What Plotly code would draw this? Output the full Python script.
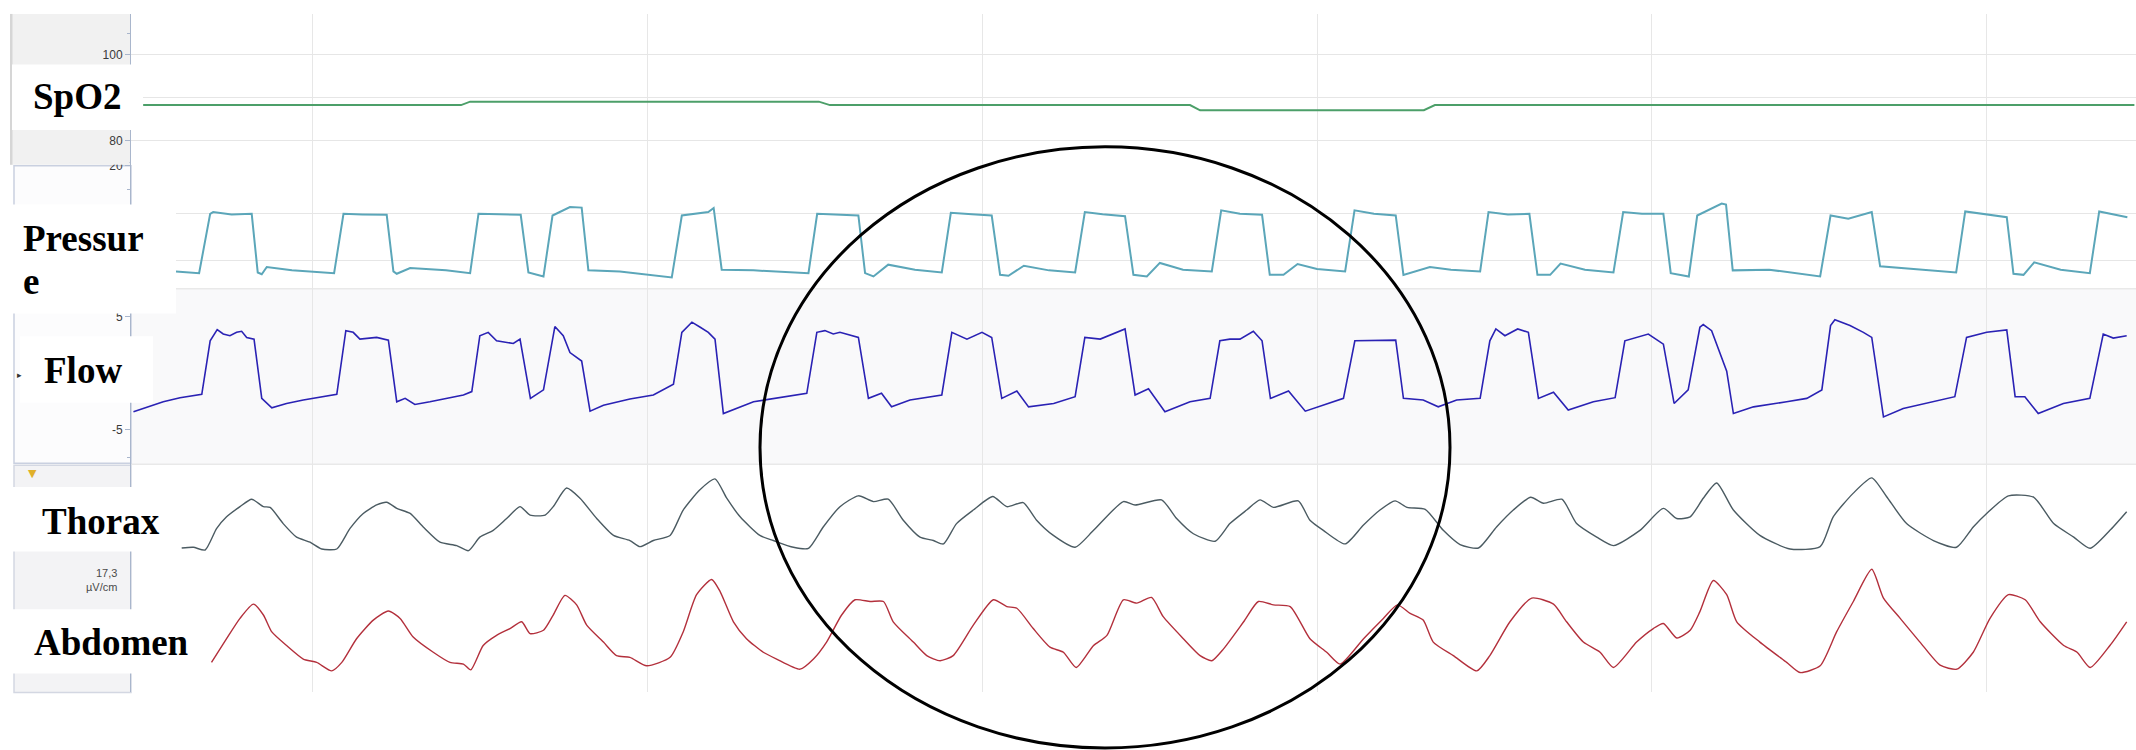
import plotly.graph_objects as go

W, H = 2136, 750

# ---------------- data (time in s, gridlines every 10 s) ----------------
spo2_t = [-5.04, 4.45, 4.72, 15.13, 15.46, 26.21, 26.51, 33.19, 33.52, 54.40]
spo2_v = [88.3, 88.3, 89.1, 89.1, 88.3, 88.3, 87.1, 87.1, 88.3, 88.3]

pressure_t = [-4.06, -3.37, -3.04, -2.95, -2.40, -1.80, -1.62, -1.50, -1.35, -0.60, 0.66, 0.94, 1.50, 2.23, 2.43,
              2.53, 2.93, 4.00, 4.72, 4.97, 5.60, 6.23, 6.46, 6.91, 7.18, 7.70, 8.05, 8.25, 9.19, 10.74,
              11.04, 11.83, 11.99, 12.23, 13.18, 14.82, 15.08, 15.70, 16.31, 16.51, 16.76, 17.20, 18.00, 18.80,
              19.07, 19.70, 20.29, 20.54, 20.79, 21.25, 22.00, 22.78, 23.07, 23.60, 24.27, 24.52, 24.92, 25.31,
              26.00, 26.86, 27.14, 27.70, 28.36, 28.59, 29.00, 29.42, 30.00, 30.84, 31.12, 31.70, 32.35, 32.58,
              33.37, 34.00, 34.87, 35.12, 35.70, 36.34, 36.58, 36.96, 37.27, 38.00, 38.85, 39.14, 39.70, 40.34,
              40.56, 41.10, 41.35, 42.08, 42.21, 42.41, 43.50, 45.02, 45.33, 45.86, 46.56, 46.81, 48.00, 49.08,
              49.35, 50.00, 50.59, 50.79, 51.09, 51.41, 52.20, 53.07, 53.35, 54.19]
pressure_v = [8.90, 8.72, 14.95, 15.13, 14.88, 14.95, 8.79, 8.60, 9.36, 9.01, 8.72, 14.95, 14.88, 14.84, 8.90,
              8.65, 9.26, 9.01, 8.72, 14.95, 14.90, 14.84, 8.79, 8.37, 14.77, 15.66, 15.60, 9.01, 8.90, 8.26,
              14.77, 15.13, 15.56, 9.08, 9.01, 8.72, 14.95, 14.88, 14.77, 8.72, 8.37, 9.61, 9.08, 8.79,
              15.06, 14.90, 14.77, 8.54, 8.44, 9.50, 9.01, 8.79, 15.13, 14.90, 14.70, 8.54, 8.37, 9.79,
              9.08, 8.90, 15.31, 14.95, 14.84, 8.54, 8.54, 9.68, 9.15, 8.90, 15.31, 14.95, 14.77, 8.54,
              9.36, 9.08, 8.90, 15.13, 14.88, 14.95, 8.54, 8.54, 9.72, 9.08, 8.79, 15.13, 14.95, 14.95,
              8.72, 8.37, 14.77, 16.02, 15.91, 9.01, 9.08, 8.37, 14.77, 14.42, 15.13, 9.43, 9.08, 8.79,
              15.20, 14.88, 14.59, 8.65, 8.54, 9.86, 9.08, 8.72, 15.20, 14.59]

flow_t = [-5.33, -4.44, -3.94, -3.29, -3.04, -2.83, -2.65, -2.45, -2.25, -2.10, -1.95, -1.73, -1.50, -1.20, -0.76,
          -0.26, 0.74, 1.01, 1.23, 1.43, 1.93, 2.28, 2.53, 2.78, 3.07, 3.52, 4.52, 4.77, 5.01, 5.26, 5.51, 6.01,
          6.21, 6.52, 6.91, 7.25, 7.50, 7.70, 8.05, 8.30, 8.70, 9.49, 10.19, 10.79, 11.04, 11.34, 11.59, 11.83,
          12.03, 12.28, 13.18, 14.77, 15.07, 15.31, 15.56, 15.76, 16.31, 16.61, 17.00, 17.30, 17.85, 18.80,
          19.10, 19.55, 20.00, 20.29, 20.59, 21.04, 21.39, 22.14, 22.78, 23.07, 23.53, 24.27, 24.57, 24.97,
          25.46, 26.21, 26.81, 27.10, 27.40, 27.70, 28.10, 28.36, 28.61, 29.15, 29.65, 30.79, 31.13, 31.78,
          32.35, 32.58, 33.17, 33.62, 34.17, 34.87, 35.16, 35.34, 35.61, 35.99, 36.31, 36.61, 37.06, 37.50,
          38.25, 38.90, 39.19, 39.89, 40.34, 40.66, 41.08, 41.43, 41.53, 41.78, 42.23, 42.43, 43.03, 44.02,
          44.62, 45.07, 45.33, 45.46, 45.91, 46.31, 46.56, 46.91, 47.50, 49.04, 49.39, 49.99, 50.59, 50.84,
          51.13, 51.53, 52.28, 53.07, 53.47, 53.77, 54.17]
flow_v = [-3.43, -2.54, -2.18, -1.88, 2.85, 3.84, 3.45, 3.30, 3.60, 3.69, 3.15, 3.00, -2.24, -3.08, -2.69,
          -2.39, -1.88, 3.75, 3.60, 3.00, 3.15, 2.91, -2.54, -2.24, -2.78, -2.54, -1.94, -1.64, 3.30, 3.60, 2.85, 2.61,
          3.00, -2.24, -1.49, 4.11, 3.30, 1.81, 1.06, -3.37, -2.84, -2.30, -1.94, -0.98, 3.60, 4.50, 4.05, 3.60,
          3.00, -3.58, -2.54, -1.79, 3.60, 3.75, 3.45, 3.60, 3.15, -2.24, -1.79, -2.99, -2.39, -1.94,
          3.60, 3.00, 3.60, 3.15, -2.24, -1.58, -2.99, -2.69, -2.09, 3.15, 3.00, 3.90, -1.94, -1.40,
          -3.43, -2.54, -2.24, 2.85, 3.00, 3.00, 3.69, 2.85, -2.24, -1.58, -3.37, -2.24, 2.85, 2.91,
          2.91, -2.24, -2.39, -2.99, -2.39, -2.24, 2.85, 3.90, 3.30, 3.90, 3.60, -2.24, -1.70, -3.28,
          -2.54, -2.18, 2.85, 3.45, 2.55, -2.69, -1.49, 4.05, 4.29, 3.75, 0.16, -3.58, -2.99, -2.54,
          -2.24, -1.49, 4.20, 4.71, 4.20, 3.60, 3.15, -3.88, -3.14, -2.09, 3.15, 3.60, 3.81, -2.09,
          -2.09, -3.58, -2.69, -2.24, 3.45, 3.09, 3.30]

thorax_t = [-3.89, -3.54, -3.19, -2.85, -2.55, -2.15, -1.80, -1.45, -1.25, -0.86, -0.46, -0.06, 0.29, 0.74, 1.13,
            1.53, 1.93, 2.23, 2.53, 2.93, 3.32, 3.82, 4.32, 4.67, 5.01, 5.41, 5.81, 6.21, 6.51, 6.96, 7.20, 7.60,
            8.00, 8.50, 9.00, 9.49, 9.79, 10.19, 10.69, 11.08, 11.58, 12.03, 12.38, 12.78, 13.37, 13.77, 14.37,
            14.82, 15.26, 15.76, 16.31, 16.76, 17.20, 17.65, 18.15, 18.55, 18.85, 19.24, 19.74, 20.32, 20.74,
            21.23, 21.63, 22.13, 22.78, 23.33, 24.22, 24.57, 25.36, 25.81, 26.31, 26.96, 27.40, 27.90, 28.30,
            28.70, 29.44, 29.79, 30.19, 30.84, 31.38, 31.88, 32.33, 32.69, 33.23, 33.77, 34.27, 34.82, 35.36,
            35.86, 36.38, 36.76, 37.31, 37.75, 38.35, 38.85, 39.64, 40.34, 40.74, 41.14, 41.53, 41.93, 42.43,
            43.22, 44.12, 45.02, 45.41, 46.01, 46.56, 47.00, 47.60, 48.40, 49.09, 49.59, 49.99, 50.64, 51.39,
            51.99, 52.59, 53.08, 53.67, 54.17]
thorax_v = [0.8, 1.0, 0.2, 6.5, 10.0, 13.0, 15.2, 13.0, 12.8, 8.0, 4.0, 2.5, 0.5, 0.5, 6.5,
            11.0, 13.5, 14.3, 12.5, 11.0, 7.0, 2.5, 1.5, 0.0, 4.0, 6.0, 9.5, 13.0, 10.5, 10.5, 13.0, 18.5,
            15.5, 9.5, 4.5, 3.0, 1.2, 3.0, 4.5, 12.0, 18.0, 21.2, 15.5, 10.0, 4.5, 3.0, 1.0,
            0.7, 7.0, 13.0, 16.2, 14.5, 15.2, 9.0, 4.0, 3.0, 2.0, 8.0, 12.0, 16.0, 13.0,
            14.2, 9.0, 4.5, 1.0, 6.0, 14.5, 13.5, 15.0, 9.5, 5.0, 2.8, 8.0, 12.0, 15.0,
            12.8, 14.7, 9.0, 6.0, 2.0, 7.5, 12.0, 14.7, 12.8, 12.2, 6.0, 1.8, 0.8, 7.0,
            12.0, 15.8, 14.0, 15.2, 8.0, 4.0, 1.5, 6.0, 12.5, 9.5, 10.0, 15.5, 20.0, 12.0,
            4.5, 0.5, 1.2, 10.0, 17.0, 21.5, 16.0, 8.0, 3.0, 1.0, 7.0, 11.0, 16.2, 15.8,
            8.0, 4.0, 0.7, 6.0, 11.5]

abdomen_t = [-3.00, -2.55, -2.15, -1.75, -1.45, -1.20, -0.76, -0.26, 0.14, 0.59, 0.89, 1.33, 1.83, 2.28, 2.63,
             3.02, 3.62, 4.12, 4.52, 4.74, 5.11, 5.51, 5.91, 6.26, 6.51, 6.91, 7.20, 7.55, 7.90, 8.20, 8.70,
             9.09, 9.49, 9.99, 10.69, 11.08, 11.48, 11.93, 12.18, 12.58, 12.97, 13.47, 13.87, 14.57, 14.97,
             15.36, 15.81, 16.21, 16.66, 17.06, 17.35, 17.95, 18.35, 18.75, 19.14, 19.74, 20.34, 20.74, 21.04,
             21.53, 22.03, 22.43, 22.81, 23.33, 23.73, 24.22, 24.62, 25.06, 25.41, 26.01, 26.51, 26.86, 27.21,
             27.81, 28.25, 28.70, 29.20, 29.79, 30.29, 30.69, 31.39, 31.98, 32.40, 32.78, 33.17, 33.47, 34.07,
             34.77, 35.16, 35.76, 36.41, 37.06, 37.45, 37.95, 38.45, 38.85, 39.54, 40.04, 40.34, 40.74, 41.14,
             41.43, 41.83, 42.23, 42.53, 43.22, 44.02, 44.42, 45.02, 45.51, 46.01, 46.56, 46.91, 47.41, 48.00,
             48.60, 49.10, 49.59, 50.09, 50.64, 51.14, 51.59, 52.29, 52.69, 53.08, 53.67, 54.17]
abdomen_v = [3.0, 10.0, 16.0, 20.2, 17.0, 12.0, 8.0, 4.0, 3.0, 0.5, 3.0, 10.0, 15.5, 18.2, 16.0,
             10.5, 6.0, 3.0, 2.5, 0.8, 8.0, 11.0, 13.0, 15.0, 11.5, 12.5, 17.0, 22.8, 20.0, 14.0, 9.0,
             5.0, 4.5, 2.0, 4.5, 12.0, 23.0, 27.5, 24.0, 15.0, 10.0, 6.0, 4.0, 1.0, 4.0,
             9.0, 17.0, 21.5, 21.0, 21.0, 15.0, 9.0, 5.0, 3.5, 5.0, 14.0, 21.5, 19.5, 19.0,
             13.0, 7.5, 6.0, 1.5, 8.0, 11.0, 21.5, 20.5, 22.2, 16.5, 10.0, 5.0, 3.5, 7.0,
             15.0, 21.0, 20.0, 19.5, 10.0, 6.0, 2.5, 10.0, 16.0, 20.0, 17.5, 15.5, 9.0, 5.0,
             0.5, 5.0, 15.0, 22.0, 20.2, 15.0, 9.0, 6.0, 1.5, 9.0, 13.0, 14.5, 10.2, 12.5,
             18.0, 27.2, 23.0, 15.0, 9.0, 3.0, 0.0, 2.0, 12.0, 21.0, 30.5, 22.0, 16.0, 9.0,
             2.2, 1.0, 6.0, 16.0, 23.0, 21.5, 15.0, 8.0, 6.0, 1.5, 8.0, 15.0]

channel_labels = ["SpO2", "Pressur", "e", "Flow", "Thorax", "Abdomen"]
spo2_ticks = [80, 90, 100]
spo2_ticktext = ["80", "", "100"]          # 90 sits under the SpO2 label box
pressure_ticks = [10, 15, 20]
pressure_ticktext = ["", "", "20"]         # 10 and 15 sit under the Pressure label box
flow_ticks = [-5, 0, 5]
flow_ticktext = ["-5", "", "5"]            # 0 sits under the Flow label box
scale_text = "17,3<br>µV/cm"

# ---------------- layout helpers (paper coordinates) ----------------
def px(x):
    return x / W

def py(y):
    return 1 - y / H

x_dom = [px(131), 1.0]
x_range = [-5.403, 54.448]
rows = [
    dict(dom=[py(160), py(8)], rng=[74.48, 109.43]),
    dict(dom=[py(285), py(160)], rng=[7.083, 20.1]),
    dict(dom=[py(462), py(285)], rng=[-8.07, 7.456]),
    dict(dom=[py(560), py(462)], rng=[-3.2, 25.51]),
    dict(dom=[py(692), py(560)], rng=[-5.88, 32.8]),
]

series = [
    (spo2_t, spo2_v, "#4c9f69", 2.0, "linear"),
    (pressure_t, pressure_v, "#5ba6b9", 2.0, "linear"),
    (flow_t, flow_v, "#2a22b4", 1.6, "linear"),
    (thorax_t, thorax_v, "#4b5b62", 1.4, "spline"),
    (abdomen_t, abdomen_v, "#b3303c", 1.4, "spline"),
]

fig = go.Figure()
for i, (t, v, c, w, shp) in enumerate(series, start=1):
    line = dict(color=c, width=w, shape=shp)
    if shp == "spline":
        line["smoothing"] = 0.6
    fig.add_trace(go.Scatter(x=t, y=v, mode="lines", line=line,
                             xaxis="x" if i == 1 else f"x{i}", yaxis="y" if i == 1 else f"y{i}",
                             hoverinfo="skip", showlegend=False))

axis_line = "#a9b6cc"
tickfont = dict(family="Liberation Sans, Arial", size=12, color="#3a3a3a")
layout = dict(width=W, height=H, margin=dict(l=0, r=0, t=0, b=0), autosize=False,
              paper_bgcolor="white", plot_bgcolor="white", showlegend=False)

yticks = [(spo2_ticks, spo2_ticktext), (pressure_ticks, pressure_ticktext), (flow_ticks, flow_ticktext), None, None]
ygrid = [True, True, False, False, False]
for i, r in enumerate(rows, start=1):
    xname = "xaxis" if i == 1 else f"xaxis{i}"
    yname = "yaxis" if i == 1 else f"yaxis{i}"
    layout[xname] = dict(domain=x_dom, range=x_range, anchor="y" if i == 1 else f"y{i}",
                         showgrid=True, gridcolor="#e7e7e7", gridwidth=1, tick0=0, dtick=10,
                         showticklabels=False, ticks="", zeroline=False, showline=False,
                         matches=None if i == 1 else "x")
    yd = dict(domain=r["dom"], range=r["rng"], anchor="x" if i == 1 else f"x{i}",
              zeroline=False, showline=True, linecolor=axis_line, linewidth=1, fixedrange=True)
    if yticks[i - 1] is not None:
        vals, texts = yticks[i - 1]
        yd.update(tickmode="array", tickvals=vals, ticktext=texts, ticks="outside", ticklen=5,
                  tickcolor=axis_line, tickfont=tickfont, showgrid=ygrid[i - 1], gridcolor="#e6e6e6",
                  minor=dict(ticks="outside", ticklen=3, tickcolor=axis_line,
                             dtick=(vals[1] - vals[0]) / 2, showgrid=False))
    else:
        yd.update(showticklabels=False, ticks="", showgrid=False)
    layout[yname] = yd

shapes = []
# flow panel tinted background
shapes.append(dict(type="rect", xref="x3 domain", yref="y3 domain", x0=0, x1=1, y0=0, y1=1,
                   fillcolor="#f9f9fa", line=dict(width=0), layer="below"))
# panel separator lines
for yy in (285, 462):
    shapes.append(dict(type="line", xref="paper", yref="paper", x0=px(131), x1=1, y0=py(yy), y1=py(yy),
                       line=dict(color="#e9e9e9", width=1.5), layer="below"))
# left gutters
shapes.append(dict(type="rect", xref="paper", yref="paper", x0=px(10), x1=px(131), y0=py(160), y1=py(8),
                   fillcolor="#f1f1f1", line=dict(width=0), layer="below"))
shapes.append(dict(type="rect", xref="paper", yref="paper", x0=px(10), x1=px(12.5), y0=py(160), y1=py(8),
                   fillcolor="#d6d6d6", line=dict(width=0), layer="below"))
shapes.append(dict(type="rect", xref="paper", yref="paper", x0=px(14), x1=px(131), y0=py(461), y1=py(161),
                   fillcolor="#fcfcfd", line=dict(color="#c9d0e0", width=1.5), layer="below"))
shapes.append(dict(type="rect", xref="paper", yref="paper", x0=px(14), x1=px(131), y0=py(692), y1=py(463),
                   fillcolor="#f3f3f5", line=dict(color="#d3d7e2", width=1.5), layer="below"))
# cover upper half of the clipped "20" label
shapes.append(dict(type="rect", xref="paper", yref="paper", x0=px(100), x1=px(129.5), y0=py(160), y1=py(150),
                   fillcolor="#f1f1f1", line=dict(width=0), layer="above"))
# white label boxes
for (x0, x1, y0, y1) in [(12, 143, 59, 125), (12, 176, 200, 310), (20, 153, 333, 400),
                         (13, 181, 485, 550), (13, 211, 608, 673)]:
    shapes.append(dict(type="rect", xref="paper", yref="paper", x0=px(x0), x1=px(x1), y0=py(y1), y1=py(y0),
                       fillcolor="white", line=dict(width=0), layer="above"))
# hand-drawn ellipse
shapes.append(dict(type="circle", xref="paper", yref="paper", x0=px(760), x1=px(1450), y0=py(748), y1=py(142),
                   line=dict(color="black", width=3), fillcolor="rgba(0,0,0,0)", layer="above"))
layout["shapes"] = shapes

label_font = dict(family="Liberation Serif, Times New Roman, serif", size=37, color="black", weight="bold")
label_pos = [(31, 91.5), (21, 234.5), (21, 277.5), (42, 367.5), (40, 519.5), (32, 641.5)]
annotations = []
for text, (lx, ly) in zip(channel_labels, label_pos):
    annotations.append(dict(text=text, x=px(lx), y=py(ly), xref="paper", yref="paper", xanchor="left",
                            yanchor="middle", showarrow=False, font=label_font))
annotations.append(dict(text=scale_text, x=px(119), y=py(579), xref="paper", yref="paper", xanchor="right",
                        yanchor="middle", align="right", showarrow=False,
                        font=dict(family="Liberation Sans, Arial", size=11, color="#4a4a4a")))
annotations.append(dict(text="▼", x=px(26), y=py(471), xref="paper", yref="paper", showarrow=False,
                        font=dict(family="DejaVu Sans", size=11, color="#e0b02a")))
annotations.append(dict(text="▸", x=px(15), y=py(372), xref="paper", yref="paper", showarrow=False,
                        font=dict(family="DejaVu Sans", size=9, color="#333333")))
layout["annotations"] = annotations

fig.update_layout(**layout)
fig.write_html("out.html", config={"displayModeBar": False},
               post_script="document.body.style.margin='0';document.body.style.padding='0';"
                           "document.body.style.overflow='hidden';")
